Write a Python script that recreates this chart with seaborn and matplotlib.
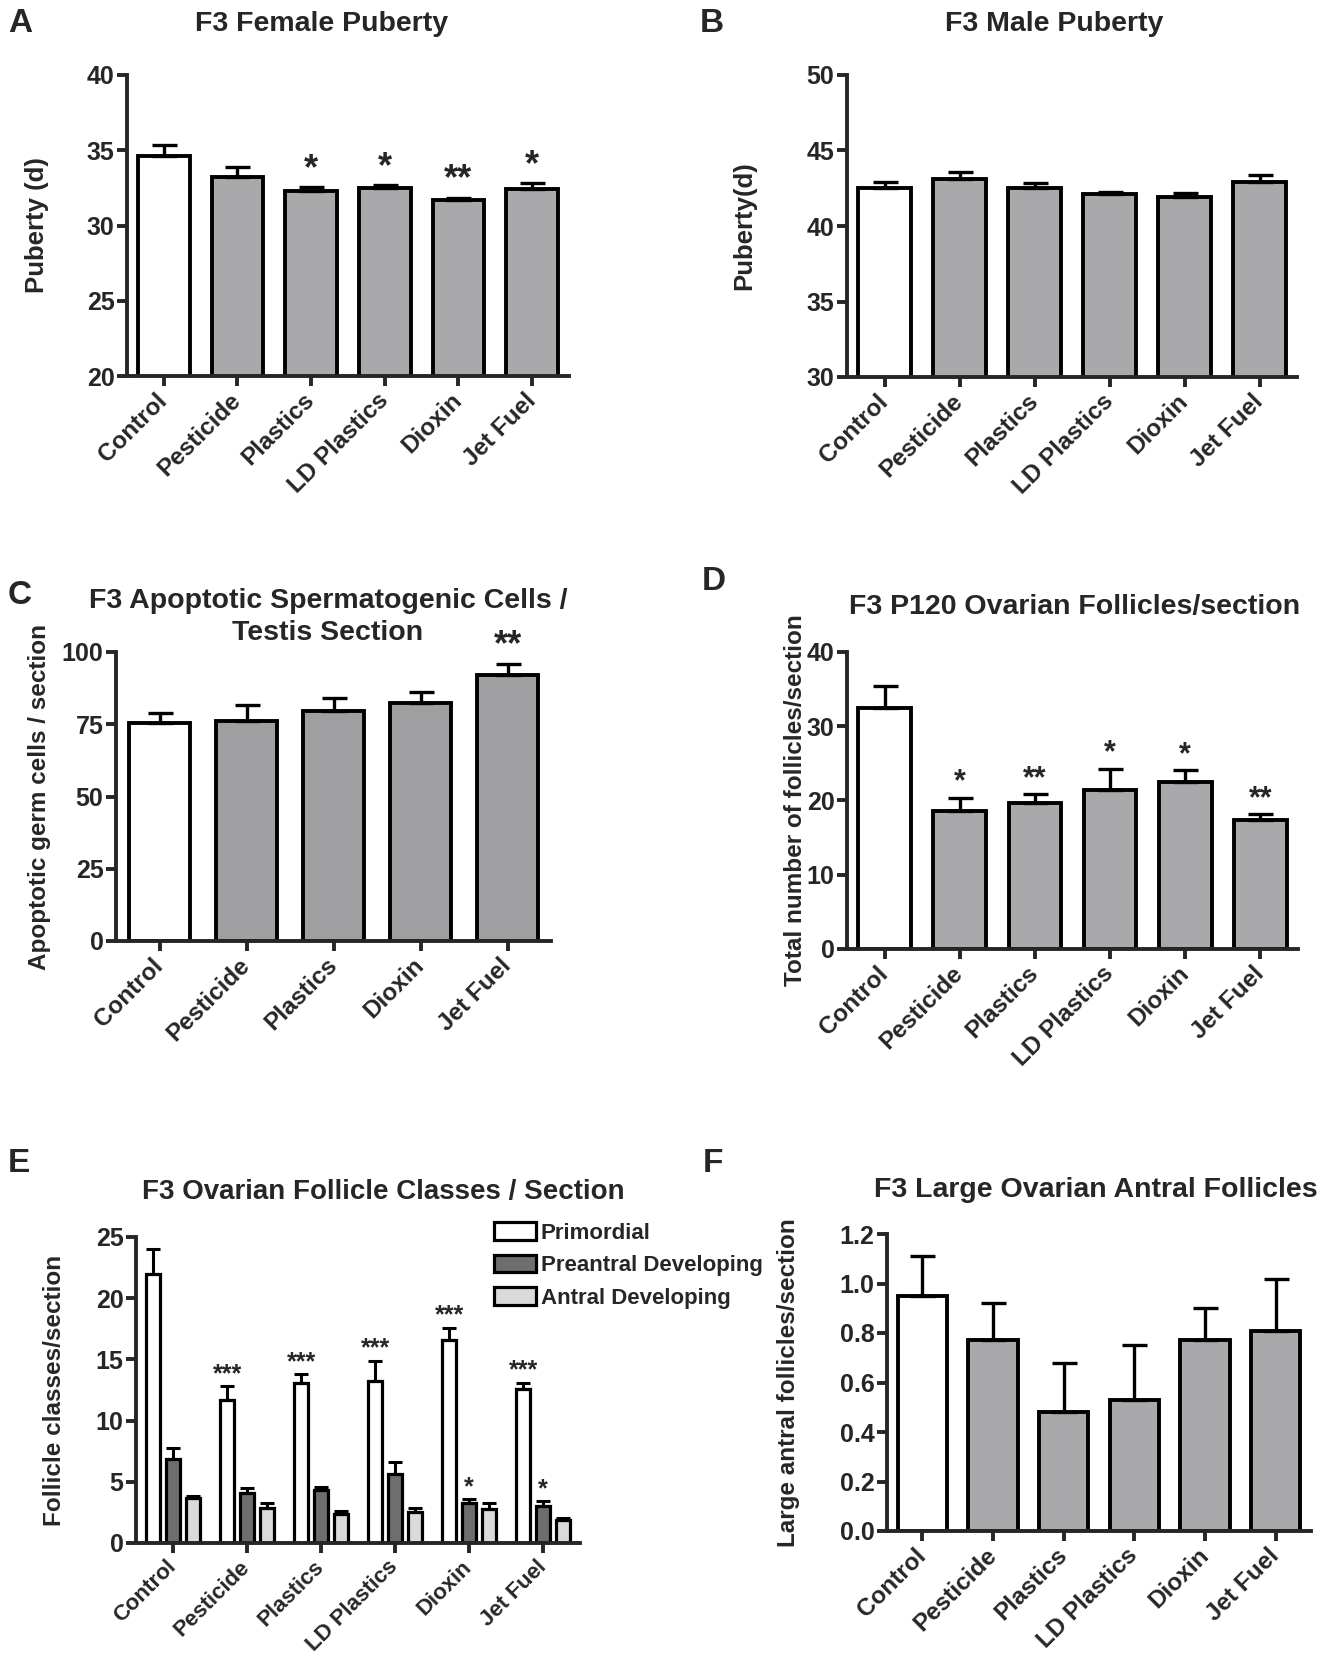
import numpy as np
import pandas as pd
import matplotlib
matplotlib.use("Agg")
import matplotlib.pyplot as plt
import seaborn as sns

# ---- data ----
groups6 = ["Control", "Pesticide", "Plastics", "LD Plastics", "Dioxin", "Jet Fuel"]
groups5 = ["Control", "Pesticide", "Plastics", "Dioxin", "Jet Fuel"]

female_puberty = [34.6, 33.2, 32.3, 32.5, 31.7, 32.4]
female_err = [0.75, 0.7, 0.25, 0.2, 0.15, 0.4]
female_stars = ["", "", "*", "*", "**", "*"]

male_puberty = [42.5, 43.1, 42.5, 42.1, 41.9, 42.9]
male_err = [0.4, 0.5, 0.35, 0.15, 0.3, 0.5]

apoptotic = [75.5, 76.0, 79.5, 82.5, 92.0]
apoptotic_err = [3.5, 5.5, 4.5, 3.5, 4.0]
apoptotic_stars = ["", "", "", "", "**"]

follicles = [32.5, 18.6, 19.6, 21.4, 22.5, 17.4]
follicles_err = [2.9, 1.8, 1.3, 2.9, 1.6, 0.8]
follicles_stars = ["", "*", "**", "*", "*", "**"]

follicle_classes = ["Primordial", "Preantral Developing", "Antral Developing"]
primordial = [22.0, 11.7, 13.1, 13.2, 16.6, 12.6]
primordial_err = [2.0, 1.1, 0.7, 1.7, 1.0, 0.5]
primordial_stars = ["", "***", "***", "***", "***", "***"]
preantral = [6.9, 4.1, 4.3, 5.6, 3.3, 3.0]
preantral_err = [0.9, 0.4, 0.3, 1.0, 0.3, 0.4]
preantral_stars = ["", "", "", "", "*", "*"]
antral = [3.7, 2.9, 2.4, 2.5, 2.8, 1.9]
antral_err = [0.15, 0.4, 0.25, 0.4, 0.5, 0.15]

large_antral = [0.95, 0.77, 0.48, 0.53, 0.77, 0.81]
large_antral_err = [0.16, 0.15, 0.2, 0.22, 0.13, 0.21]

# ---- style ----
sns.set_style("ticks")
plt.rcParams["font.family"] = ["Liberation Sans", "DejaVu Sans"]
plt.rcParams["font.weight"] = "bold"
plt.rcParams["axes.labelweight"] = "bold"

GREY = "#a8a8ac"
LW = 2.8
TITLE = 20.5
TICK = 18
XTICK = 17.5
YLAB = 17.5

W, H = 1330, 1659
fig = plt.figure(figsize=(W / 100, H / 100), dpi=100)
fig.patch.set_facecolor("white")


def add_ax(l, t, r, b):
    return fig.add_axes([l / W, 1 - b / H, (r - l) / W, (b - t) / H])


def style_ax(ax, ylim, yticks, ylabel, label_x, l, r, fmt="{:g}", ylab_size=YLAB,
             xtick_size=XTICK):
    sns.despine(ax=ax)
    for s in ("left", "bottom"):
        ax.spines[s].set_linewidth(LW)
    ax.set_ylim(*ylim)
    ax.set_yticks(yticks)
    ax.set_yticklabels([fmt.format(v) for v in yticks])
    ax.tick_params(axis="both", width=LW, length=7, direction="out", labelsize=TICK)
    ax.tick_params(axis="y", pad=2)
    ax.tick_params(axis="x", pad=8)
    plt.setp(ax.get_xticklabels(), rotation=45, ha="right", va="center",
             rotation_mode="anchor", fontsize=xtick_size, fontweight="bold")
    plt.setp(ax.get_yticklabels(), fontweight="bold")
    ax.set_xlabel("")
    ax.set_ylabel(ylabel, fontsize=ylab_size, fontweight="bold", va="center")
    ax.yaxis.set_label_coords((label_x - l) / (r - l), 0.5)


def simple_bars(ax, cats, vals, errs, stars, face, star_size=24, width=0.7):
    df = pd.DataFrame({"group": cats, "value": vals})
    pal = ["white"] + [face] * (len(cats) - 1)
    sns.barplot(data=df, x="group", y="value", hue="group", palette=pal, legend=False,
                errorbar=None, width=width, edgecolor="black", linewidth=LW, ax=ax)
    x = np.arange(len(cats))
    ax.errorbar(x, vals, yerr=[np.zeros(len(errs)), errs], fmt="none", ecolor="black",
                elinewidth=2.4, capsize=9, capthick=2.4, zorder=1)
    if stars:
        for xi, v, e, s in zip(x, vals, errs, stars):
            if s:
                ax.annotate(s, (xi, v + e), xytext=(0, 0), textcoords="offset points",
                            ha="center", va="bottom", fontsize=star_size, fontweight="bold")
    ax.set_xlim(-0.5, len(cats) - 0.5)


def fig_text(x, y, s, size, **kw):
    fig.text(x / W, 1 - y / H, s, fontsize=size, fontweight="bold", **kw)


# A
l, t, r, b = 127, 75, 569, 376
ax = add_ax(l, t, r, b)
simple_bars(ax, groups6, female_puberty, female_err, female_stars, GREY, star_size=26)
style_ax(ax, (20, 40), [20, 25, 30, 35, 40], "Puberty (d)", 37, l, r, ylab_size=18.5)
fig_text(322, 24, "F3 Female Puberty", TITLE, ha="center", va="center")
fig_text(8, 24, "A", 24, ha="left", va="center")

# B
l, t, r, b = 847, 75, 1297, 377
ax = add_ax(l, t, r, b)
simple_bars(ax, groups6, male_puberty, male_err, None, GREY)
style_ax(ax, (30, 50), [30, 35, 40, 45, 50], "Puberty(d)", 744, l, r, ylab_size=18.5)
fig_text(1054, 24, "F3 Male Puberty", TITLE, ha="center", va="center")
fig_text(700, 24, "B", 24, ha="left", va="center")

# C
l, t, r, b = 116, 652, 551, 941
ax = add_ax(l, t, r, b)
simple_bars(ax, groups5, apoptotic, apoptotic_err, apoptotic_stars, "#9e9ea2", star_size=26)
style_ax(ax, (0, 100), [0, 25, 50, 75, 100], "Apoptotic germ cells / section", 40, l, r)
fig_text(328, 601, "F3 Apoptotic Spermatogenic Cells /", TITLE, ha="center", va="center")
fig_text(328, 633, "Testis Section", TITLE, ha="center", va="center")
fig_text(8, 596, "C", 24, ha="left", va="center")

# D
l, t, r, b = 847, 652, 1298, 949
ax = add_ax(l, t, r, b)
simple_bars(ax, groups6, follicles, follicles_err, follicles_stars, GREY, star_size=22)
style_ax(ax, (0, 40), [0, 10, 20, 30, 40], "Total number of follicles/section", 796, l, r)
fig_text(1075, 607, "F3 P120 Ovarian Follicles/section", TITLE, ha="center", va="center")
fig_text(702, 582, "D", 24, ha="left", va="center")

# E
l, t, r, b = 136, 1237, 580, 1543
ax = add_ax(l, t, r, b)
df_e = pd.DataFrame({
    "group": groups6 * 3,
    "cls": sum([[c] * 6 for c in follicle_classes], []),
    "value": primordial + preantral + antral,
})
pal_e = {"Primordial": "white", "Preantral Developing": "#6e6e6e",
         "Antral Developing": "#dadada"}
sns.barplot(data=df_e, x="group", y="value", hue="cls", palette=pal_e, errorbar=None,
            width=0.8, gap=0.3, edgecolor="black", linewidth=2.3, ax=ax)
for cont, vals, errs, stars in zip(ax.containers,
                                   [primordial, preantral, antral],
                                   [primordial_err, preantral_err, antral_err],
                                   [primordial_stars, preantral_stars, None]):
    xs = [p.get_x() + p.get_width() / 2 for p in cont.patches]
    ax.errorbar(xs, vals, yerr=[np.zeros(len(errs)), errs], fmt="none", ecolor="black",
                elinewidth=2.2, capsize=5, capthick=2.2, zorder=1)
    if stars:
        for xi, v, e, s in zip(xs, vals, errs, stars):
            if s:
                ax.annotate(s, (xi, v + e), xytext=(0, 0), textcoords="offset points",
                            ha="center", va="bottom", fontsize=18)
ax.set_xlim(-0.5, 5.5)
style_ax(ax, (0, 25), [0, 5, 10, 15, 20, 25], "Follicle classes/section", 55, l, r,
         xtick_size=16)
leg = ax.legend(loc="upper left", bbox_to_anchor=(494 / W, 1 - 1222 / H),
                bbox_transform=fig.transFigure, frameon=False, fontsize=16,
                handlelength=1.9, handleheight=0.85, handletextpad=0.2, labelspacing=0.5,
                borderaxespad=0, borderpad=0)
for h in leg.legend_handles:
    h.set_edgecolor("black")
    h.set_linewidth(2.3)
for txt in leg.get_texts():
    txt.set_fontweight("bold")
fig_text(383, 1192, "F3 Ovarian Follicle Classes / Section", 20, ha="center", va="center")
fig_text(8, 1163, "E", 24, ha="left", va="center")

# F
l, t, r, b = 887, 1234, 1311, 1531
ax = add_ax(l, t, r, b)
simple_bars(ax, groups6, large_antral, large_antral_err, None, GREY)
style_ax(ax, (0, 1.2), [0, 0.2, 0.4, 0.6, 0.8, 1.0, 1.2], "Large antral follicles/section",
         789, l, r, fmt="{:.1f}")
fig_text(1096, 1190, "F3 Large Ovarian Antral Follicles", TITLE, ha="center", va="center")
fig_text(703, 1163, "F", 24, ha="left", va="center")

fig.savefig("out.png", dpi=100, facecolor="white")
